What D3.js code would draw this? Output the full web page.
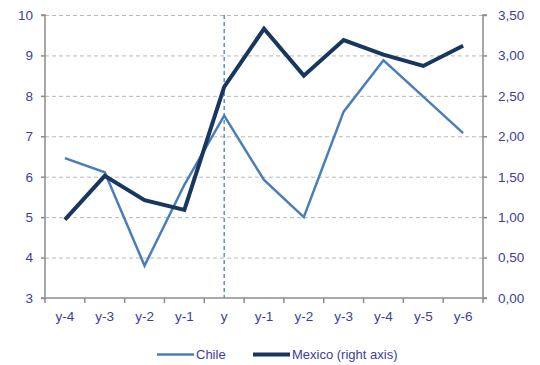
<!DOCTYPE html>
<html>
<head>
<meta charset="utf-8">
<script src="https://cdn.jsdelivr.net/npm/d3@7"></script>
<style>
  html, body { margin: 0; padding: 0; background: #fff; }
  svg { display: block; font-family: "Liberation Sans", Arial, sans-serif; }
</style>
</head>
<body>
<svg id="chart" width="540" height="365"></svg>
<script>
// Period labels along the x axis
const periods = ["y-4", "y-3", "y-2", "y-1", "y", "y-1", "y-2", "y-3", "y-4", "y-5", "y-6"];
// Chile (left axis)
const chile = [6.46, 6.11, 3.80, 5.80, 7.51, 5.92, 5.00, 7.61, 8.88, 7.98, 7.08];
// Mexico (right axis)
const mexico = [0.97, 1.51, 1.21, 1.09, 2.61, 3.33, 2.75, 3.19, 3.01, 2.87, 3.12];
// Axis ticks
const leftTicks = [3, 4, 5, 6, 7, 8, 9, 10];
const rightTicks = [0, 0.5, 1, 1.5, 2, 2.5, 3, 3.5];
const markerPeriod = 4; // index of "y"

const svg = d3.select("#chart");
const m = { left: 45, right: 483, top: 15, bottom: 298 };

const x = d3.scaleBand().domain(d3.range(periods.length)).range([m.left, m.right]);
const yL = d3.scaleLinear().domain([3, 10]).range([m.bottom, m.top]);
const yR = d3.scaleLinear().domain([0, 3.5]).range([m.bottom, m.top]);
const cx = i => x(i) + x.bandwidth() / 2;

const labelColor = "#3d3d9f";
const axisColor = "#8c8c8c";

// Gridlines
svg.append("g").selectAll("line")
  .data(leftTicks.filter(d => d !== 3))
  .join("line")
  .attr("x1", m.left).attr("x2", m.right)
  .attr("y1", d => yL(d) + 0.5).attr("y2", d => yL(d) + 0.5)
  .attr("stroke", "#b8b8b8").attr("stroke-width", 1)
  .attr("stroke-dasharray", "4,3");

// Vertical dashed marker at current period
svg.append("line")
  .attr("x1", cx(markerPeriod)).attr("x2", cx(markerPeriod))
  .attr("y1", m.top).attr("y2", m.bottom)
  .attr("stroke", "#4a7ebb").attr("stroke-width", 1.3)
  .attr("stroke-dasharray", "4,3");

// Left axis
const gL = svg.append("g").attr("transform", `translate(${m.left},0)`)
  .call(d3.axisLeft(yL).tickValues(leftTicks).tickSize(4).tickPadding(8).tickFormat(d3.format("d")));
// Right axis
const gR = svg.append("g").attr("transform", `translate(${m.right},0)`)
  .call(d3.axisRight(yR).tickValues(rightTicks).tickSize(4).tickPadding(11)
    .tickFormat(d => d3.format(".2f")(d).replace(".", ",")));
// Bottom axis with ticks on category boundaries
const gB = svg.append("g").attr("transform", `translate(0,${m.bottom})`)
  .call(d3.axisBottom(x).tickSize(0).tickPadding(13).tickFormat(i => periods[i]));
gB.append("g").selectAll("line")
  .data(d3.range(periods.length + 1))
  .join("line")
  .attr("x1", i => m.left + i * x.step()).attr("x2", i => m.left + i * x.step())
  .attr("y1", 0).attr("y2", 5)
  .attr("stroke", axisColor).attr("stroke-width", 1.5);

[gL, gR, gB].forEach(g => {
  g.select(".domain").attr("stroke", axisColor).attr("stroke-width", 1.5);
  g.selectAll(".tick line").attr("stroke", axisColor).attr("stroke-width", 1.5);
  g.selectAll(".tick text").attr("fill", labelColor)
    .style("font-size", "13.5px").style("font-family", "Liberation Sans, Arial, sans-serif");
});
gL.select(".domain").attr("d", `M-4,${m.top}H0V${m.bottom}H-4`);
gR.select(".domain").attr("d", `M4,${m.top}H0V${m.bottom}H4`);
gB.select(".domain").attr("d", `M${m.left},0H${m.right}`);

// Series lines
const lineL = d3.line().x((d, i) => cx(i)).y(d => yL(d));
const lineR = d3.line().x((d, i) => cx(i)).y(d => yR(d));

svg.append("path").datum(chile)
  .attr("d", lineL).attr("fill", "none")
  .attr("stroke", "#4a7ebb").attr("stroke-width", 2.5)
  .attr("stroke-linejoin", "miter");

svg.append("path").datum(mexico)
  .attr("d", lineR).attr("fill", "none")
  .attr("stroke", "#17375e").attr("stroke-width", 4)
  .attr("stroke-linejoin", "miter");

// Legend
const legend = [
  { name: "Chile", color: "#4a7ebb", w: 2.5, x0: 157 },
  { name: "Mexico (right axis)", color: "#17375e", w: 4, x0: 253 }
];
const lg = svg.append("g");
legend.forEach(l => {
  lg.append("line")
    .attr("x1", l.x0).attr("x2", l.x0 + 37)
    .attr("y1", 354.5).attr("y2", 354.5)
    .attr("stroke", l.color).attr("stroke-width", l.w);
  lg.append("text")
    .attr("x", l.x0 + 39).attr("y", 359)
    .attr("fill", labelColor)
    .style("font-size", "13px")
    .text(l.name);
});
</script>
</body>
</html>
